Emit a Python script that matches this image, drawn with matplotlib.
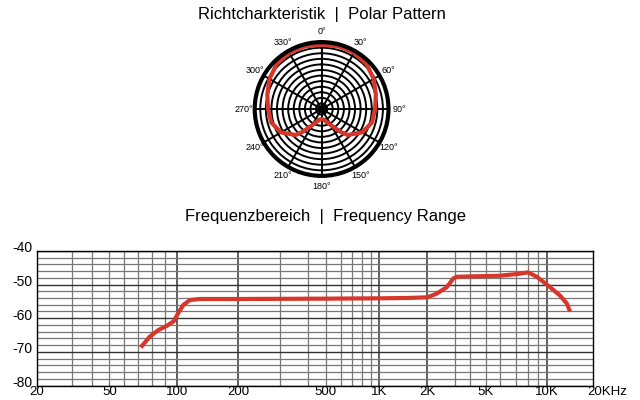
import numpy as np
import matplotlib
matplotlib.use("Agg")
import matplotlib.pyplot as plt
import matplotlib.transforms as mtransforms
from matplotlib.scale import FuncScale

plt.rcParams["font.family"] = ["Liberation Sans", "DejaVu Sans"]
plt.rcParams["axes.unicode_minus"] = False
TITLE_FONT = ["Liberation Sans Narrow", "Liberation Sans", "DejaVu Sans"]
RED = "#d7362b"

# polar pattern, one half (symmetric), degrees / relative radius
polar_deg = [0, 15, 30, 45, 60, 75, 90, 105, 120, 135, 140, 150, 160, 170, 180]
polar_r = [0.96, 0.97, 0.97, 0.95, 0.90, 0.84, 0.80, 0.78, 0.70, 0.55, 0.45, 0.28, 0.20, 0.16, 0.15]
angle_labels = ["0°", "30°", "60°", "90°", "120°", "150°", "180°",
                "210°", "240°", "270°", "300°", "330°"]

# frequency response
freq_hz = [71.7, 78.4, 84.9, 91.3, 97.0, 101, 107, 115.5, 129, 200, 500, 1000,
           1500, 2000, 2297, 2659, 2927, 3096, 6000, 7310, 8000, 8870,
           10460, 12150, 13430, 14110]
level_db = [-68.7, -65.5, -63.5, -62.3, -60.9, -58.5, -56.1, -54.6, -54.3, -54.3,
            -54.2, -54.1, -54.0, -53.8, -52.7, -50.8, -48.2, -47.7, -47.4, -46.8,
            -46.4, -47.7, -50.8, -53.3, -55.6, -58.0]
freq_labels = ["20", "50", "100", "200", "500", "1K", "2K", "5K", "10K", "20KHz"]
freq_label_hz = [20, 50, 100, 200, 500, 1000, 2000, 5000, 10000, 20000]
dark_grid_hz = [100, 200, 1000, 2000, 10000]

# the printed chart's frequency axis is not a clean log axis: grid frequency -> pixel
grid_hz = np.array([20, 30, 40, 50, 60, 70, 80, 90, 100, 200, 300, 400, 500, 600, 700,
                    800, 900, 1000, 2000, 3000, 4000, 5000, 6000, 7000, 8000, 9000,
                    10000, 20000], dtype=float)
grid_px = np.array([36.7, 72.3, 92.3, 109.3, 124.3, 138.3, 151.7, 165, 177.3, 238.3,
                    280, 307.7, 325.7, 340.7, 351.7, 362.3, 370.7, 379, 427.3, 455,
                    470, 486, 500, 516, 528, 538, 547, 593.3])
log_knots = np.log10(grid_hz)


def fwd(f):
    f = np.asarray(f, dtype=float)
    return np.interp(np.log10(np.clip(f, 1e-6, None)), log_knots, grid_px)


def inv(p):
    p = np.asarray(p, dtype=float)
    return 10 ** np.interp(p, grid_px, log_knots)


fig = plt.figure(figsize=(6.4, 4.0), dpi=100)

# ---- polar pattern
fig.text(0.503, 0.965, "Richtcharkteristik  |  Polar Pattern", ha="center", va="center",
         fontsize=12, family=TITLE_FONT)
pax = fig.add_axes([0.398, 0.56, 0.209, 0.335], projection="polar")
pax.set_theta_zero_location("N")
pax.set_theta_direction(-1)
pax.set_ylim(0, 1)
pax.set_yticks(np.linspace(0, 1, 13)[1:-1])
pax.set_yticklabels([])
pax.set_xticks(np.deg2rad(np.arange(0, 360, 30)))
pax.set_xticklabels(angle_labels, fontsize=6.5)
pax.tick_params(axis="x", pad=-3)
pax.grid(True, color="black", lw=1.4)
pax.spines["polar"].set_linewidth(3)
half = np.deg2rad(polar_deg)
theta = np.concatenate([half, 2 * np.pi - half[::-1]])
rr = np.concatenate([polar_r, polar_r[::-1]])
pax.plot(theta, rr, color=RED, lw=3.0, solid_joinstyle="round")
pax.plot(0, 0, "o", color="black", ms=5)

# ---- frequency range
fig.text(0.508, 0.458, "Frequenzbereich  |  Frequency Range", ha="center", va="center",
         fontsize=12, family=TITLE_FONT)
ax = fig.add_axes([0.0573, 0.036, 0.8698, 0.337])
ax.set_xscale(FuncScale(ax, (fwd, inv)))
ax.set_xlim(20, 20000)
ax.set_ylim(-80, -40)
ax.set_xticks(freq_label_hz)
ax.set_xticklabels(freq_labels, fontsize=9.5)
ax.set_xticks([f for f in grid_hz if f not in freq_label_hz], minor=True)
ax.set_yticks([-40, -50, -60, -70, -80])
ax.set_yticks(np.arange(-78, -40, 2), minor=True)
ax.tick_params(which="both", length=0)
ax.tick_params(axis="x", pad=0)
ax.tick_params(axis="y", pad=3, labelsize=10)
ax.grid(True, which="major", axis="y", color="#333333", lw=1.0)
ax.grid(True, which="minor", color="#777777", lw=0.9)
ax.grid(False, which="major", axis="x")
for f in freq_label_hz[1:-1]:
    ax.axvline(f, color="#333333" if f in dark_grid_hz else "#777777",
               lw=1.1 if f in dark_grid_hz else 0.9, zorder=0.5)
ax.set_axisbelow(True)
for s in ax.spines.values():
    s.set_linewidth(1.0)
up = mtransforms.ScaledTranslation(0, 0.04, fig.dpi_scale_trans)
for lab in ax.get_yticklabels():
    lab.set_transform(lab.get_transform() + up)
last = ax.get_xticklabels()[-1]
last.set_transform(last.get_transform() + mtransforms.ScaledTranslation(0.14, 0, fig.dpi_scale_trans))
ax.plot(freq_hz, level_db, color=RED, lw=3.0, solid_capstyle="butt", solid_joinstyle="round")

fig.savefig("out.png", dpi=100)
